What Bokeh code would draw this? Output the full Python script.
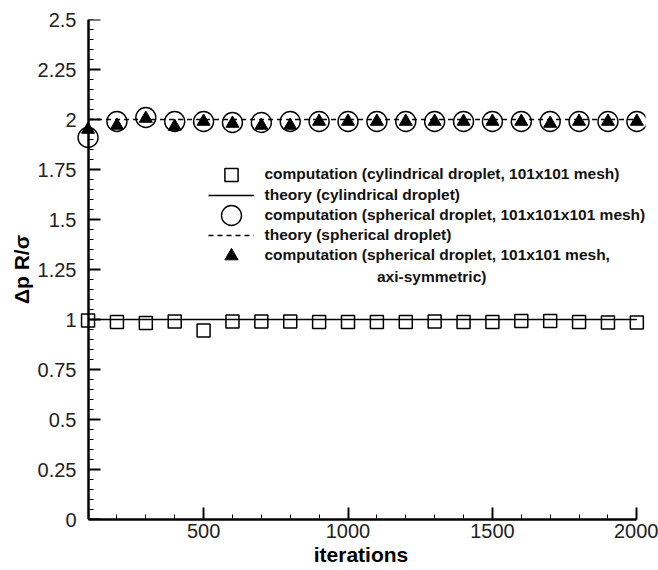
from bokeh.plotting import figure
from bokeh.models import (FixedTicker, NumeralTickFormatter, Legend, LegendItem,
                          Label, LinearAxis, Range1d)
from bokeh.embed import file_html
from bokeh.resources import INLINE

# Pressure jump across the interface, normalised by R/sigma, over the run
iterations = [100, 200, 300, 400, 500, 600, 700, 800, 900, 1000,
              1100, 1200, 1300, 1400, 1500, 1600, 1700, 1800, 1900, 2000]
cyl_comp = [0.995, 0.987, 0.983, 0.990, 0.945, 0.990, 0.990, 0.990, 0.987, 0.987,
            0.987, 0.987, 0.990, 0.987, 0.987, 0.992, 0.992, 0.987, 0.985, 0.985]
sph_comp = [1.910, 1.990, 2.010, 1.990, 1.990, 1.985, 1.985, 1.990, 1.990, 1.990,
            1.990, 1.990, 1.990, 1.990, 1.990, 1.990, 1.990, 1.990, 1.990, 1.990]
axi_comp = [1.950, 1.970, 2.005, 1.965, 1.990, 1.980, 1.970, 1.970, 1.990, 1.990,
            1.990, 1.990, 1.990, 1.990, 1.990, 1.990, 1.980, 1.990, 1.990, 1.990]
theory_x = [100, 2000]
theory_cyl = [1.0, 1.0]
theory_sph = [2.0, 2.0]

x_major = [500, 1000, 1500, 2000]
y_major = [0, 0.25, 0.5, 0.75, 1, 1.25, 1.5, 1.75, 2, 2.25, 2.5]

labels = [
    "computation (cylindrical droplet, 101x101 mesh)",
    "theory (cylindrical droplet)",
    "computation (spherical droplet, 101x101x101 mesh)",
    "theory (spherical droplet)",
    "computation (spherical droplet, 101x101 mesh,",
]
label_cont = "axi-symmetric)"

FONT = "Liberation Sans"
LEGEND_SIZE = "15.5px"

p = figure(width=658, height=570,
           x_range=Range1d(60, 2030), y_range=Range1d(0, 2.5),
           x_axis_location=None, y_axis_location=None,
           output_backend="svg", toolbar_location=None,
           min_border_left=76, min_border_right=13,
           min_border_top=19, min_border_bottom=51)
p.outline_line_color = None
p.xgrid.visible = False
p.ygrid.visible = False
p.background_fill_color = "white"
p.border_fill_color = "white"


def style_axis(ax):
    ax.axis_line_width = 2.5
    ax.axis_line_color = "black"
    ax.major_tick_line_width = 2
    ax.major_tick_line_color = "black"
    ax.minor_tick_line_width = 1
    ax.minor_tick_line_color = "black"
    ax.major_tick_in = 12
    ax.major_tick_out = 0
    ax.minor_tick_in = 5
    ax.minor_tick_out = 0
    ax.major_label_text_font = FONT
    ax.major_label_text_font_size = "20px"
    ax.major_label_text_color = "#222222"
    ax.axis_label_text_font = FONT
    ax.axis_label_text_font_size = "21px"
    ax.axis_label_text_font_style = "bold"
    ax.axis_label_text_color = "black"


xaxis = LinearAxis(
    ticker=FixedTicker(ticks=x_major, minor_ticks=list(range(100, 2001, 100))),
    bounds=(100, 2000), axis_label="iterations")
style_axis(xaxis)
xaxis.major_label_standoff = 4
xaxis.axis_label_standoff = 2
p.add_layout(xaxis, "below")

y_ticker = FixedTicker(ticks=y_major, minor_ticks=[round(i * 0.05, 2) for i in range(51)])
y_format = NumeralTickFormatter(format="0.[00]")

# tick labels and title of the vertical axis
ylabels = LinearAxis(ticker=y_ticker, formatter=y_format, axis_label="\u0394p R/\u03c3")
style_axis(ylabels)
ylabels.axis_line_color = None
ylabels.major_tick_line_color = None
ylabels.minor_tick_line_color = None
ylabels.major_tick_in = 0
ylabels.minor_tick_in = 0
ylabels.major_label_standoff = 0
ylabels.axis_label_standoff = 2
p.add_layout(ylabels, "left")

# vertical axis line and ticks, pinned at the first iteration
yline = LinearAxis(ticker=y_ticker, formatter=y_format, fixed_location=100)
style_axis(yline)
yline.major_label_text_alpha = 0
yline.major_label_text_font_size = "1px"
yline.major_label_standoff = 0
p.add_layout(yline, "left")

# theory lines
r_cyl_th = p.line(theory_x, theory_cyl, line_color="black", line_width=1.6)
r_sph_th = p.line(theory_x, theory_sph, line_color="black", line_width=1.3,
                  line_dash="5 4")

# computed values
r_cyl = p.scatter(iterations, cyl_comp, marker="square", size=13,
                  fill_color=None, line_color="black", line_width=1.5)
r_sph = p.scatter(iterations, sph_comp, marker="circle", size=20,
                  fill_color=None, line_color="black", line_width=1.4)
r_axi = p.scatter(iterations, axi_comp, marker="triangle", size=13,
                  fill_color="black", line_color="black", line_width=1)

FRAME_LEFT = 76.5
FRAME_BOTTOM = 519


def add_entry(renderer, text, row_y, gw, gh, left, standoff):
    leg = Legend(items=[LegendItem(label=text, renderers=[renderer])],
                 location=(left - FRAME_LEFT, FRAME_BOTTOM - row_y - gh / 2),
                 orientation="vertical",
                 glyph_width=gw, glyph_height=gh, label_height=20,
                 label_standoff=standoff, padding=0, margin=0, spacing=0,
                 border_line_color=None, background_fill_alpha=0,
                 label_text_font=FONT, label_text_font_style="bold",
                 label_text_font_size=LEGEND_SIZE, label_text_color="#111111")
    p.add_layout(leg)


rows = [174, 195, 215, 235, 255]
add_entry(r_cyl, labels[0], rows[0], 50, 33, 206, 9)
add_entry(r_cyl_th, labels[1], rows[1], 46, 20, 208, 11)
add_entry(r_sph, labels[2], rows[2], 50, 50, 206, 9)
add_entry(r_sph_th, labels[3], rows[3], 46, 20, 208, 11)
add_entry(r_axi, labels[4], rows[4], 50, 33, 206, 9)

p.add_layout(Label(x=377 - FRAME_LEFT, y=FRAME_BOTTOM - 276,
                   x_units="screen", y_units="screen", text=label_cont,
                   text_font=FONT, text_font_style="bold",
                   text_font_size=LEGEND_SIZE, text_color="#111111",
                   text_baseline="middle"))

open("out.html", "w").write(file_html(p, INLINE))
